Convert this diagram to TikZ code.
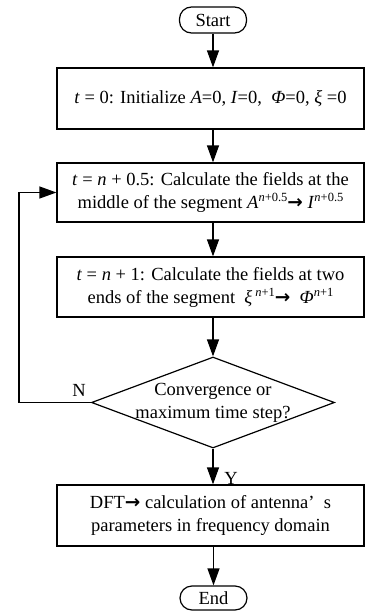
\documentclass[tikz,border=0pt]{standalone}
\usepackage{fontspec}
\setmainfont{Liberation Serif}
\newfontfamily\arrowfont{DejaVu Sans}
\usetikzlibrary{arrows.meta,shapes.geometric}
\newcommand\upidx[1]{\raisebox{7pt}{\fontsize{12.5}{13}\selectfont #1}}
\newcommand\rarr{{\arrowfont\bfseries →}}
\tikzset{
  flow/.style={line width=1.2pt,-{Triangle[length=17pt,width=12pt]}},
  procbox/.style={draw,line width=1.2pt,minimum width=307pt,align=center,inner sep=0pt},
  term/.style={draw,line width=1.2pt,rounded corners=12pt,minimum width=67pt,inner sep=0pt},
  lbl/.style={inner sep=0pt}
}
\begin{document}
\begin{tikzpicture}[x=1pt,y=-1pt]
\useasboundingbox (0,0) rectangle (365,611);
\fontsize{18.5}{23}\selectfont
\node[term,minimum height=26pt] (start) at (213,20) {Start};
\node[procbox,minimum height=61pt] (b1) at (210.5,98.5) {\textit{t} = 0: Initialize \textit{A}=0, \textit{I}=0,\ \ \textit{Φ}=0, \textit{ξ} =0};
\node[procbox,minimum height=59pt] (b2) at (210.5,192.5) {\textit{t} = \textit{n} + 0.5: Calculate the fields at the\\middle of the segment \textit{A}\upidx{\textit{n}+0.5}\rarr\ \textit{I}\upidx{\textit{n}+0.5}};
\node[procbox,minimum height=60pt] (b3) at (210.5,287) {\textit{t} = \textit{n} + 1: Calculate the fields at two\\ends of the segment\ \ \textit{ξ}\,\upidx{\textit{n}+1}\rarr\ \ \textit{Φ}\upidx{\textit{n}+1}};
\node[draw,diamond,line width=1.2pt,minimum width=243pt,minimum height=91pt,inner sep=0pt] (dec) at (213,402.5) {};
\node[lbl,align=center] (dectext) at (dec.center) {Convergence or\\maximum time step?};
\node[procbox,minimum height=61pt] (b4) at (210.5,515.5) {DFT\rarr\ calculation of antenna’\ \ s\\parameters in frequency domain};
\node[term,minimum height=24pt] (end) at (213.5,598) {End};
\coordinate (c1) at (19,402.5);
\coordinate (c2) at (19,192.5);
\draw[flow] (start.south) -- (start.south |- b1.north);
\draw[flow] (start.south |- b1.south) -- (start.south |- b2.north);
\draw[flow] (start.south |- b2.south) -- (start.south |- b3.north);
\draw[flow] (start.south |- b3.south) -- (dec.north);
\draw[flow] (dec.south) -- (dec.south |- b4.north);
\draw[flow] (end.north |- b4.south) -- (end.north);
\draw[flow] (dec.west) -- (c1) -- (c2) -- (b2.west);
\node[lbl] (nlab) at (79,390) {N};
\node[lbl] (ylab) at (231,478) {Y};
\end{tikzpicture}
\end{document}
